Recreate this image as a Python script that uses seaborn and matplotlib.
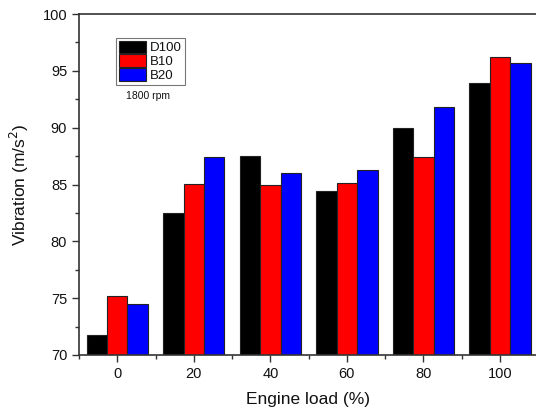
import numpy as np
import pandas as pd
import matplotlib
matplotlib.use("Agg")
import matplotlib.pyplot as plt
import seaborn as sns
from matplotlib.ticker import MultipleLocator

# data
loads = ["0", "20", "40", "60", "80", "100"]
fuels = ["D100", "B10", "B20"]
d100 = [71.75, 82.45, 87.5, 84.4, 89.95, 93.9]
b10 = [75.2, 85.05, 85.0, 85.1, 87.4, 96.2]
b20 = [74.45, 87.4, 86.05, 86.3, 91.8, 95.65]

df = pd.DataFrame({
    "load": loads * 3,
    "fuel": np.repeat(fuels, len(loads)),
    "vib": d100 + b10 + b20,
})

sns.set_style("ticks")
plt.rcParams["font.family"] = ["Liberation Sans", "DejaVu Sans"]
plt.rcParams["text.color"] = "#111111"
plt.rcParams["axes.labelcolor"] = "#111111"
plt.rcParams["xtick.color"] = "#333333"
plt.rcParams["ytick.color"] = "#333333"
plt.rcParams["xtick.labelcolor"] = "#111111"
plt.rcParams["ytick.labelcolor"] = "#111111"

fig = plt.figure(figsize=(5.36, 4.12), dpi=100)
ax = fig.add_axes([79 / 536, 1 - 355 / 412, 1 - 79 / 536, (355 - 14) / 412])

sns.barplot(data=df, x="load", y="vib", hue="fuel", order=loads, hue_order=fuels,
            palette=["#000000", "#ff0000", "#0000ff"], saturation=1, width=0.8,
            edgecolor="#222222", linewidth=0.8, ax=ax, errorbar=None)

ax.set_ylim(70, 100)
ax.set_xlim(-0.49, 5.47)
ax.yaxis.set_major_locator(MultipleLocator(5))
ax.yaxis.set_minor_locator(MultipleLocator(2.5))
ax.set_xticks(np.arange(6))
ax.set_xticks(np.arange(6) - 0.5, minor=True)
ax.tick_params(axis="both", which="major", direction="out", length=5, width=1, labelsize=10.5)
ax.tick_params(axis="both", which="minor", direction="out", length=3, width=1)
for s in ["left", "bottom", "top"]:
    ax.spines[s].set_linewidth(1.2)
    ax.spines[s].set_color("#333333")
ax.spines["right"].set_visible(False)

ax.set_xlabel("Engine load (%)", fontsize=12.5, labelpad=8)
ax.set_ylabel("Vibration (m/s$^2$)", fontsize=12.5, labelpad=8)

leg = ax.legend(loc="upper left", bbox_to_anchor=(116 / 536, 1 - 38 / 412),
                bbox_transform=fig.transFigure, borderaxespad=0, fontsize=9.5,
                handlelength=2.1, handleheight=1.1, labelspacing=0.0,
                handletextpad=0.3, borderpad=0.2, fancybox=False, frameon=True)
leg.get_frame().set_edgecolor("#555555")
leg.get_frame().set_linewidth(0.8)
fig.text(148 / 536, 1 - 96 / 412, "1800 rpm", fontsize=7.5, ha="center", va="center")

fig.savefig("out.png", dpi=100)
